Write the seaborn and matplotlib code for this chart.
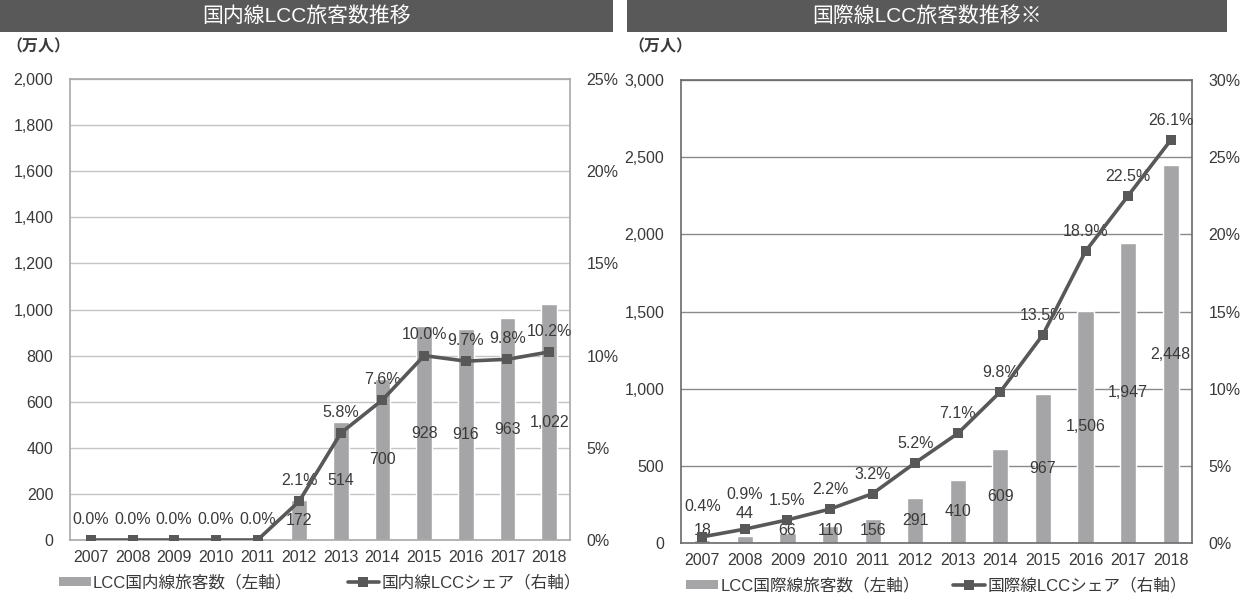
import numpy as np
import pandas as pd
import matplotlib
matplotlib.use("Agg")
import matplotlib.pyplot as plt
import seaborn as sns
from matplotlib import font_manager
from matplotlib.lines import Line2D
from matplotlib.patches import Patch, Rectangle
from matplotlib.ticker import FuncFormatter, MultipleLocator

# ---- data -------------------------------------------------------------
years = [str(y) for y in range(2007, 2019)]

dom_passengers = [0, 0, 0, 0, 0, 172, 514, 700, 928, 916, 963, 1022]      # 万人
dom_share = [0.0, 0.0, 0.0, 0.0, 0.0, 2.1, 5.8, 7.6, 10.0, 9.7, 9.8, 10.2]  # %

intl_passengers = [18, 44, 66, 110, 156, 291, 410, 609, 967, 1506, 1947, 2448]
intl_share = [0.4, 0.9, 1.5, 2.2, 3.2, 5.2, 7.1, 9.8, 13.5, 18.9, 22.5, 26.1]

dom_title = "国内線LCC旅客数推移"
intl_title = "国際線LCC旅客数推移※"
unit_label = "（万人）"
dom_bar_label = "LCC国内線旅客数（左軸）"
dom_line_label = "国内線LCCシェア（右軸）"
intl_bar_label = "LCC国際線旅客数（左軸）"
intl_line_label = "国際線LCCシェア（右軸）"

# ---- style ------------------------------------------------------------
BAR_COLOR = "#a5a5a7"
LINE_COLOR = "#585858"
BANNER_COLOR = "#595959"
TEXT_COLOR = "#3a3a3a"


def pick_font(candidates):
    names = {f.name for f in font_manager.fontManager.ttflist}
    for c in candidates:
        if c in names:
            return c
    return "DejaVu Sans"


LATIN = pick_font(["Liberation Sans Narrow", "Liberation Sans", "Arimo"])
CJK = "Noto Sans CJK JP"

sns.set_theme(style="white")
plt.rcParams["font.family"] = [LATIN, CJK, "DejaVu Sans"]
plt.rcParams["text.color"] = TEXT_COLOR
plt.rcParams["axes.labelcolor"] = TEXT_COLOR
plt.rcParams["xtick.color"] = TEXT_COLOR
plt.rcParams["ytick.color"] = TEXT_COLOR

W, H = 1251, 606
fig = plt.figure(figsize=(W / 100, H / 100), dpi=100)
fig.patch.set_facecolor("white")


def px_rect(x0, y0, x1, y1):
    """Convert a pixel box (top-left origin) to figure fractions."""
    return [x0 / W, 1 - y1 / H, (x1 - x0) / W, (y1 - y0) / H]


def draw_panel(rect, passengers, share, left_max, left_step, right_max, right_step,
               frame_color, grid_color, label_floor, bar_label, line_label,
               colspacing, share_offset, bar_label_lift=None, share_lift=None):
    bar_label_lift = bar_label_lift or {}
    share_lift = share_lift or {}
    ax = fig.add_axes(px_rect(*rect))
    n = len(years)
    df = pd.DataFrame({"year": years, "passengers": passengers})
    sns.barplot(data=df, x="year", y="passengers", color=BAR_COLOR,
                saturation=1, width=0.38, ax=ax, zorder=2)
    ax.set_xlim(-0.5, n - 0.5)
    ax.set_ylim(0, left_max)
    ax.yaxis.set_major_locator(MultipleLocator(left_step))
    ax.yaxis.set_major_formatter(FuncFormatter(lambda v, p: f"{v:,.0f}"))
    ax.set_xlabel("")
    ax.set_ylabel("")
    ax.yaxis.grid(True, color=grid_color, lw=1.0, zorder=0)
    ax.set_axisbelow(True)
    for s in ax.spines.values():
        s.set_color(frame_color)
        s.set_linewidth(1.2)
    ax.tick_params(axis="y", length=0, pad=12, labelsize=11.5)
    ax.tick_params(axis="x", length=0, pad=7, labelsize=11.5)

    # value labels sit mid-bar; a few are lifted (in points) to clear the line
    for i, v in enumerate(passengers):
        if v > 0:
            ax.annotate(f"{v:,}", (i, max(v / 2, label_floor)),
                        xytext=(0, bar_label_lift.get(i, 0)),
                        textcoords="offset points", ha="center", va="center",
                        fontsize=11.5, color=TEXT_COLOR, zorder=3)

    ax2 = ax.twinx()
    sns.lineplot(x=np.arange(n), y=share, ax=ax2, color=LINE_COLOR,
                 marker="s", markersize=7.5, markeredgewidth=0,
                 linewidth=2.6, zorder=4)
    ax2.set_ylim(0, right_max)
    ax2.set_xlim(-0.5, n - 0.5)
    ax2.yaxis.set_major_locator(MultipleLocator(right_step))
    ax2.yaxis.set_major_formatter(FuncFormatter(lambda v, p: f"{v:.0f}%"))
    ax2.set_ylabel("")
    ax2.grid(False)
    for s in ax2.spines.values():
        s.set_visible(False)
    ax2.tick_params(axis="y", length=0, pad=12, labelsize=11.5)

    for i, s in enumerate(share):
        ax2.annotate(f"{s:.1f}%", (i, s),
                     xytext=(0, share_offset + share_lift.get(i, 0)),
                     textcoords="offset points", ha="center", va="center",
                     fontsize=11.5, color=TEXT_COLOR)

    handles = [
        Patch(facecolor=BAR_COLOR, edgecolor="none"),
        Line2D([0], [0], color=LINE_COLOR, lw=2.6, marker="s",
               markersize=7.5, markeredgewidth=0),
    ]
    ax.legend(handles, [bar_label, line_label], ncol=2, frameon=False,
              loc="center", bbox_to_anchor=(0.5, -0.092),
              fontsize=12, handlelength=1.9, handleheight=0.45,
              handletextpad=0.15, columnspacing=colspacing,
              borderaxespad=0)
    return ax, ax2


# left panel: domestic
draw_panel((70, 79, 570, 540), dom_passengers, dom_share, 2000, 200, 25, 5,
           "#a8a8a8", "#c4c4c4", 0, dom_bar_label, dom_line_label, 3.3, 15)
# right panel: international
draw_panel((681, 80, 1192, 543), intl_passengers, intl_share, 3000, 500, 30, 5,
           "#6a6a6a", "#8a8a8a", 80, intl_bar_label, intl_line_label, 2.0, 14,
           bar_label_lift={1: 12}, share_lift={0: 8, 1: 11})

# title banners
for (x0, x1, title) in [(0, 613, dom_title), (627, 1227, intl_title)]:
    fig.patches.append(Rectangle((x0 / W, 1 - 32 / H), (x1 - x0) / W, 32 / H,
                                 transform=fig.transFigure,
                                 facecolor=BANNER_COLOR, edgecolor="none"))
    fig.text((x0 + x1) / 2 / W, 1 - 16 / H, title, ha="center", va="center",
             fontsize=15, color="white")

# unit captions
for x in (6, 628):
    fig.text(x / W, 1 - 47 / H, unit_label, ha="left", va="center",
             fontsize=11.5, fontweight="bold", color=TEXT_COLOR)

fig.savefig("out.png", dpi=100, facecolor="white")
